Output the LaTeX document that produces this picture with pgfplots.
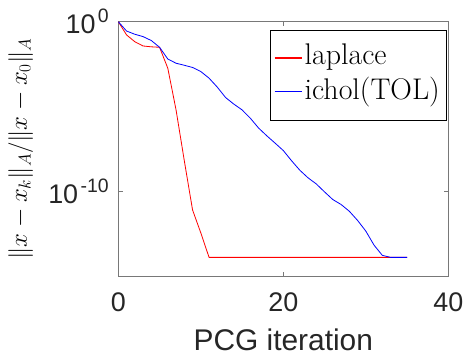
\documentclass[border=0pt]{standalone}
\usepackage{fontspec}
\setmainfont{Liberation Sans}
\newfontfamily\lmr{Latin Modern Roman}
\usepackage{pgfplots}
\pgfplotsset{compat=1.18}
\definecolor{axgray}{RGB}{120,120,120}
\definecolor{txtgray}{RGB}{38,38,38}
\begin{document}
\begin{tikzpicture}
\begin{axis}[
  name=ax,
  scale only axis,
  width=330bp, height=254.3bp,
  xmin=0, xmax=40,
  ymode=log, ymin=1e-15, ymax=1,
  xtick={0,20,40},
  xticklabels={0,20,40},
  ytick={1e-10,1},
  yticklabels={{10\kern2.5bp\raisebox{11bp}{\fontsize{19.5}{19.5}\selectfont -10}},{10\kern2.5bp\raisebox{11bp}{\fontsize{19.5}{19.5}\selectfont 0}}},
  yminorticks=false, xminorticks=false,
  tick align=inside,
  major tick length=4.5bp,
  axis line style={axgray, line width=0.9bp},
  every tick/.style={axgray, line width=0.9bp},
  tick label style={font=\fontsize{27}{30}\selectfont, text=txtgray},
  xticklabel style={anchor=base, yshift=-35bp},
  yticklabel style={anchor=east, xshift=-6bp},
  xlabel={PCG iteration},
  xlabel style={font=\fontsize{30}{34}\selectfont, text=txtgray, at={(axis description cs:0.5,0)}, anchor=base, yshift=-74bp},
  ylabel={$\|x-x_k\|_A/\|x-x_0\|_A$},
  ylabel style={font=\fontsize{26.5}{30}\selectfont, at={(axis description cs:-0.344,0.5)}, anchor=north},
  legend style={at={(axis description cs:1,1)}, anchor=north east, xshift=-2.3bp, yshift=-8.3bp,
    font=\fontsize{30}{32}\selectfont\lmr, row sep=1bp,
    inner xsep=4bp, inner ysep=12bp,
    nodes={inner sep=2bp, text depth=7bp},
    cells={anchor=west}},
  legend image post style={xscale=1.6, line width=1.5bp},
]
\addplot[red, line width=0.8bp] coordinates {
(0,1) (1,0.166) (2,0.066) (3,0.037) (4,0.033) (5,0.031) (6,1.8e-3) (7,6.3e-6) (8,6.3e-9) (9,7.9e-12) (10,3.5e-13) (11,1.26e-14) (35,1.26e-14)
};
\addlegendentry{laplace}
\addplot[blue, line width=0.8bp] coordinates {
(0,1) (1,0.282) (2,0.182) (3,0.132) (4,0.0776) (5,0.031) (6,6.3e-3) (7,3.55e-3) (8,2.69e-3) (9,2.0e-3) (10,1.15e-3) (11,4.68e-4) (12,1.38e-4) (13,3.39e-5) (14,1.38e-5) (15,6.31e-6) (16,2.04e-6) (17,5.37e-7) (18,1.86e-7) (19,6.92e-8) (20,2.51e-8) (21,6.31e-9) (22,1.74e-9) (23,6.17e-10) (24,2.69e-10) (25,9.12e-11) (26,3.24e-11) (27,1.66e-11) (28,6.61e-12) (29,1.91e-12) (30,4.47e-13) (31,6.61e-14) (32,1.66e-14) (33,1.26e-14) (34,1.26e-14) (35,1.26e-14)
};
\addlegendentry{ichol(TOL)}
\end{axis}
\pgfresetboundingbox
\path[use as bounding box] ([shift={(-118.3bp,-80bp)}]ax.south west) rectangle ([shift={(15.7bp,21.7bp)}]ax.north east);
\end{tikzpicture}
\end{document}
